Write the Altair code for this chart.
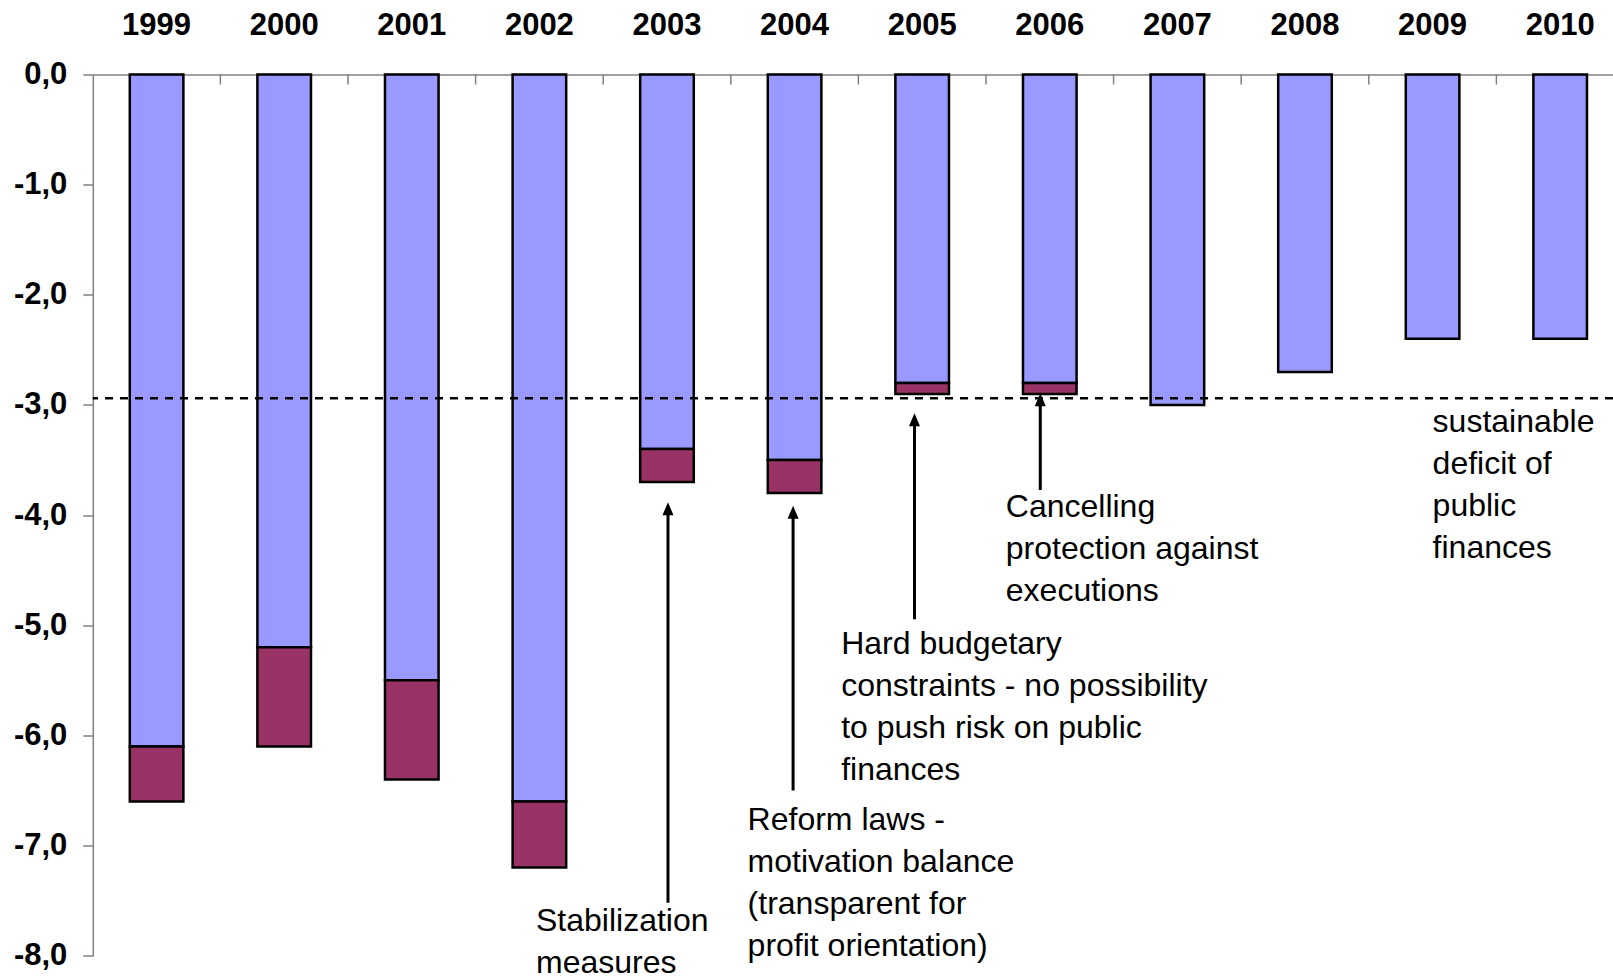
import altair as alt
import pandas as pd

# ---- data -------------------------------------------------------------
years = ["1999", "2000", "2001", "2002", "2003", "2004",
         "2005", "2006", "2007", "2008", "2009", "2010"]
# public finance balance, % of GDP: core deficit and deficit incl. extra burden
balance_core = [-6.1, -5.2, -5.5, -6.6, -3.4, -3.5, -2.8, -2.8, -3.0, -2.7, -2.4, -2.4]
balance_total = [-6.6, -6.1, -6.4, -7.2, -3.7, -3.8, -2.9, -2.9, -3.0, -2.7, -2.4, -2.4]
sustainable_level = -2.94

note_years = ["2003", "2004", "2005", "2006", "2009"]
note_values = [-7.78, -6.86, -5.26, -4.015, -3.248]
note_lines = [
    ["Stabilization", "measures"],
    ["Reform laws -", "motivation balance", "(transparent for", "profit orientation)"],
    ["Hard budgetary", "constraints - no possibility", "to push risk on public", "finances"],
    ["Cancelling", "protection against", "executions"],
    ["sustainable", "deficit of", "public", "finances"],
]

arrow_years = ["2003", "2004", "2005", "2006"]
arrow_tips = [-3.884, -3.915, -3.076, -2.894]
arrow_tails = [-7.52, -6.50, -4.946, -3.772]

# ---- layout / style ---------------------------------------------------
PLOT_W = 1520.2
PLOT_H = 881.2
HALF_STEP = 63.8                          # half a category step, in px
FONT = "Liberation Sans"
NOTE_DX = [-131, -47, -81, -44, 0]        # horizontal nudge of each note block
ARROW_DX = [1, -1.5, -7.7, -9.5]          # horizontal nudge of each arrow
HEAD = "M0,0L-0.85,2L0.85,2Z"             # arrow head, tip at the anchor point

rows = []
for yr, core, total in zip(years, balance_core, balance_total):
    rows.append({"year": yr, "part": "core", "start": 0.0, "end": core})
    if total < core:
        rows.append({"year": yr, "part": "extra", "start": core, "end": total})
seg_df = pd.DataFrame(rows)

x_scale = alt.Scale(domain=years, paddingInner=0.58, paddingOuter=0.2469, align=0.587)
y_scale = alt.Scale(domain=[-8, 0], nice=False, zero=False)

top_axis = alt.Axis(
    orient="top", title=None, labelAngle=0, grid=False,
    labelFont=FONT, labelFontWeight="bold", labelFontSize=31, labelColor="black",
    labelPadding=40, labelBaseline="alphabetic",
    ticks=False, tickSize=0, domainColor="#808080", domainWidth=1.5,
)
y_axis = alt.Axis(
    values=list(range(-8, 1)), title=None, grid=False,
    labelExpr="(datum.value < 0 ? '-' : '') + abs(datum.value) + ',0'",
    labelFont=FONT, labelFontWeight="bold", labelFontSize=31, labelColor="black",
    labelPadding=16, tickSize=10, tickColor="#808080", tickWidth=1.5,
    domainColor="#808080", domainWidth=1.5,
)

bars = alt.Chart(seg_df).mark_bar(stroke="black", strokeWidth=2.5).encode(
    x=alt.X("year:N", scale=x_scale, sort=years, axis=top_axis),
    y=alt.Y("start:Q", scale=y_scale, axis=y_axis),
    y2="end:Q",
    color=alt.Color("part:N",
                    scale=alt.Scale(domain=["core", "extra"], range=["#9999FF", "#993366"]),
                    legend=None),
)

# short ticks hanging from the category axis at the boundaries between years
boundary_ticks = alt.Chart(pd.DataFrame({"year": years[1:]})).mark_rule(
    color="#808080", strokeWidth=1.5, xOffset=-HALF_STEP, y2Offset=10
).encode(
    x=alt.X("year:N", scale=x_scale, sort=years, title=None),
    y=alt.Y(datum=0, scale=y_scale, title=None),
    y2=alt.Y2(datum=0),
)

level_rule = alt.Chart(pd.DataFrame({"level": [sustainable_level]})).mark_rule(
    color="black", strokeWidth=2.5, strokeDash=[8, 7]
).encode(y=alt.Y("level:Q", scale=y_scale, title=None))

arrow_df = pd.DataFrame({"year": arrow_years, "tip": arrow_tips, "tail": arrow_tails})
arrow_layers = []
for i, shift in enumerate(ARROW_DX):
    sub = alt.Chart(arrow_df.iloc[[i]])
    shaft = sub.mark_rule(color="black", strokeWidth=3, xOffset=shift, yOffset=6).encode(
        x=alt.X("year:N", scale=x_scale, sort=years, title=None),
        y=alt.Y("tip:Q", scale=y_scale, title=None),
        y2="tail:Q",
    )
    head = sub.mark_point(shape=HEAD, size=169, filled=True, color="black",
                          strokeWidth=0, opacity=1, xOffset=shift).encode(
        x=alt.X("year:N", scale=x_scale, sort=years, title=None),
        y=alt.Y("tip:Q", scale=y_scale, title=None),
    )
    arrow_layers += [shaft, head]

note_layers = []
for yr, val, lines, dx in zip(note_years, note_values, note_lines, NOTE_DX):
    df = pd.DataFrame({"year": [yr], "value": [val], "label": ["\n".join(lines)]})
    note_layers.append(
        alt.Chart(df).mark_text(
            align="left", baseline="alphabetic", dx=dx, lineBreak="\n", lineHeight=42,
            font=FONT, fontSize=32, color="black",
        ).encode(
            x=alt.X("year:N", scale=x_scale, sort=years, title=None),
            y=alt.Y("value:Q", scale=y_scale, title=None),
            text="label:N",
        )
    )

chart = (
    alt.layer(bars, boundary_ticks, level_rule, *arrow_layers, *note_layers)
    .properties(
        width=PLOT_W,
        height=PLOT_H,
        autosize=alt.AutoSizeParams(type="none"),
        padding={"left": 92.8, "top": 74.5, "right": 0, "bottom": 23.3},
        background="white",
    )
    .configure_view(stroke=None)
)

chart.save("out.html", embed_options={"renderer": "svg", "actions": False})
